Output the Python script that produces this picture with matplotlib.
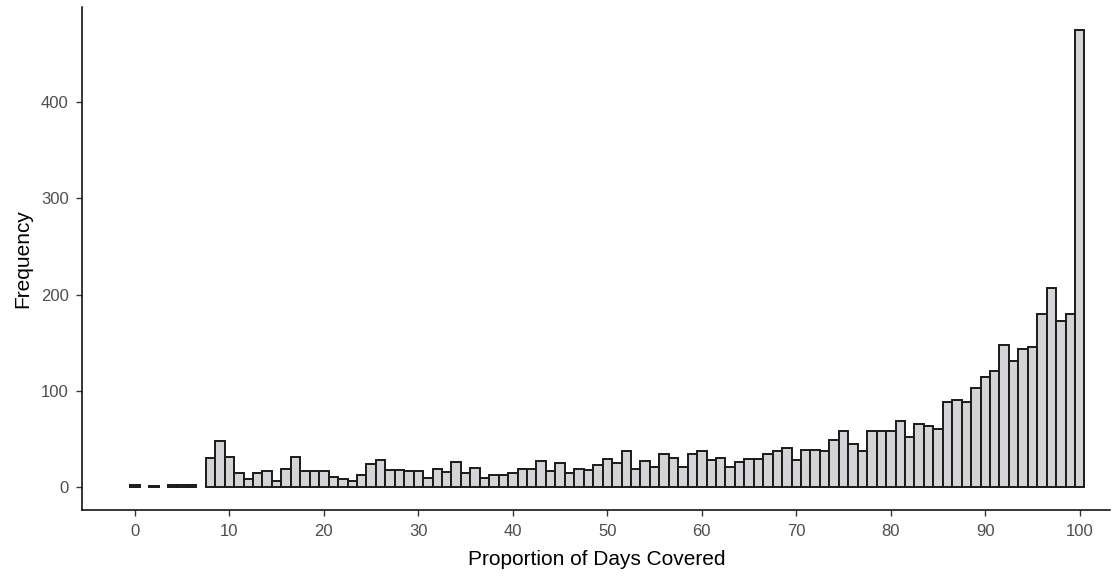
import matplotlib
matplotlib.use("Agg")
import matplotlib.pyplot as plt
import numpy as np

plt.rcParams['font.family'] = ['Liberation Sans', 'DejaVu Sans']

# Proportion of days covered (bin centres 0..100) and frequencies
pdc_bins = list(range(0, 101))
frequency = [
    2, 0, 1, 0, 2, 2, 2, 0, 30, 48,        # 0-9
    31, 15, 8, 15, 17, 6, 19, 31, 17, 17,  # 10-19
    17, 11, 8, 6, 13, 24, 28, 18, 18, 17,  # 20-29
    17, 9, 19, 16, 26, 15, 20, 10, 13, 13, # 30-39
    15, 19, 19, 27, 17, 25, 15, 19, 18, 23,  # 40-49
    29, 25, 38, 19, 27, 21, 34, 30, 21, 34,  # 50-59
    38, 28, 30, 21, 26, 29, 29, 34, 38, 41,  # 60-69
    28, 39, 39, 38, 49, 58, 45, 38, 58, 58,  # 70-79
    58, 69, 52, 66, 64, 60, 88, 90, 88, 103,  # 80-89
    114, 121, 148, 131, 143, 146, 180, 207, 173, 180,  # 90-99
    475,                                   # 100
]
x_ticks = [0, 10, 20, 30, 40, 50, 60, 70, 80, 90, 100]
y_ticks = [0, 100, 200, 300, 400]
x_label = "Proportion of Days Covered"
y_label = "Frequency"

W, H = 1119, 576
fig = plt.figure(figsize=(W / 100, H / 100), dpi=100)
ax = fig.add_axes([82.5 / W, (H - 510) / H, (1110 - 82.5) / W, 503 / H])

xs = np.array(pdc_bins)
ys = np.array(frequency)
mask = ys > 0
ax.bar(xs[mask], ys[mask], width=1.0, color='#d4d4d6', edgecolor='#1a1a1a',
       linewidth=1.4, align='center')

ax.set_xlim(-5.55, 103.2)
ax.set_ylim(-23.75, 498.75)
ax.set_xticks(x_ticks)
ax.set_yticks(y_ticks)

for side in ['top', 'right']:
    ax.spines[side].set_visible(False)
for side in ['left', 'bottom']:
    ax.spines[side].set_color('black')
    ax.spines[side].set_linewidth(1.1)

ax.tick_params(axis='both', which='major', length=4, width=1.0, color='#333333',
               labelsize=12, labelcolor='#4d4d4d', pad=6)

ax.set_xlabel(x_label, fontsize=15, color='black', labelpad=8)
ax.set_ylabel(y_label, fontsize=15, color='black', labelpad=6)

fig.savefig("out.png", dpi=100, facecolor='white')
